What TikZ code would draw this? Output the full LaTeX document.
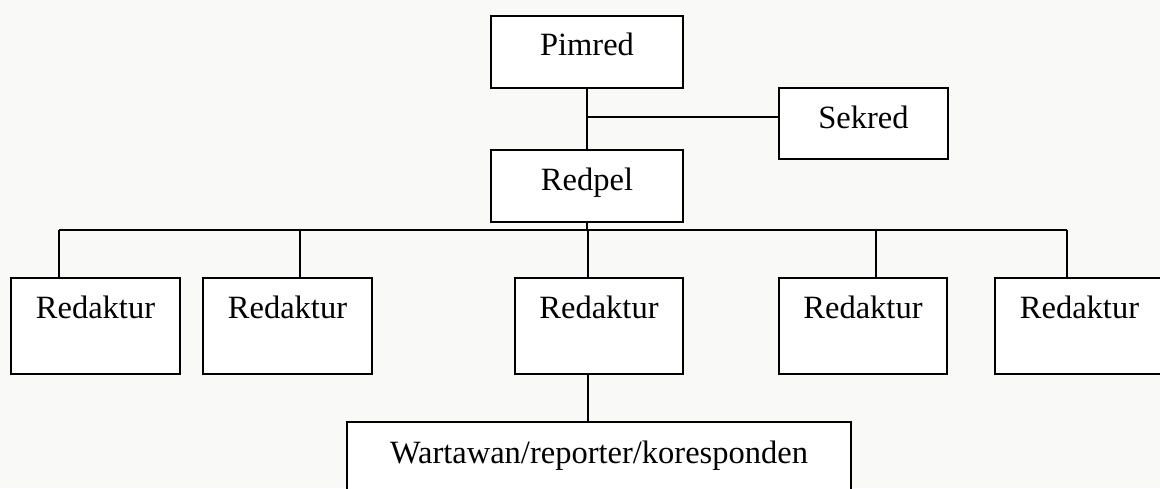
\documentclass[tikz,border=0pt]{standalone}
\usepackage{fontspec}
\setmainfont{Liberation Serif}
\definecolor{bgtint}{RGB}{249,250,247}
\begin{document}
\begin{tikzpicture}[x=1pt,y=-1pt,
  box/.style={draw=black, line width=1.3pt, fill=white, inner sep=0pt, outer sep=0pt,
    anchor=north west, font=\fontsize{32.5}{38}\selectfont},
  link/.style={draw=black, line width=1.3pt}]
\useasboundingbox (0,0) rectangle (1160,488);
\clip (0,0) rectangle (1160,488);
\fill[bgtint] (0,0) rectangle (1160,488);
% boxes
\node[box, minimum width=192pt, text height=39pt, text depth=33pt] (pimred) at (491,16) {Pimred};
\node[box, minimum width=169pt, text height=40pt, text depth=31pt] (sekred) at (779,88) {Sekred};
\node[box, minimum width=192pt, text height=40pt, text depth=32pt] (redpel) at (491,150) {Redpel};
\node[box, minimum width=169pt, text height=40pt, text depth=56pt] (r1) at (11,278) {Redaktur};
\node[box, minimum width=169pt, text height=40pt, text depth=56pt] (r2) at (203,278) {Redaktur};
\node[box, minimum width=168pt, text height=40pt, text depth=56pt] (r3) at (515,278) {Redaktur};
\node[box, minimum width=168pt, text height=40pt, text depth=56pt] (r4) at (779,278) {Redaktur};
\node[box, minimum width=169pt, text height=40pt, text depth=56pt] (r5) at (995,278) {Redaktur};
\node[box, minimum width=504pt, text height=41pt, text depth=40pt] (war) at (347,422) {Wartawan/reporter/koresponden};
% junctions
\coordinate (js) at (587,117);
\coordinate (bus) at (587,230);
\coordinate (d1) at (59,230);
\coordinate (d2) at (300,230);
\coordinate (d3) at (588,230);
\coordinate (d4) at (876,230);
\coordinate (d5) at (1067,230);
% connectors
\draw[link] (pimred.south) -- (redpel.north);
\draw[link] (js) -- (js -| sekred.west);
\draw[link] (redpel.south) -- (bus);
\draw[link] (d1) -- (d5);
\draw[link] (d1) -- (d1 |- r1.north);
\draw[link] (d2) -- (d2 |- r2.north);
\draw[link] (d3) -- (d3 |- r3.north);
\draw[link] (d4) -- (d4 |- r4.north);
\draw[link] (d5) -- (d5 |- r5.north);
\draw[link] (r3.south -| d3) -- (war.north -| d3);
\end{tikzpicture}
\end{document}
